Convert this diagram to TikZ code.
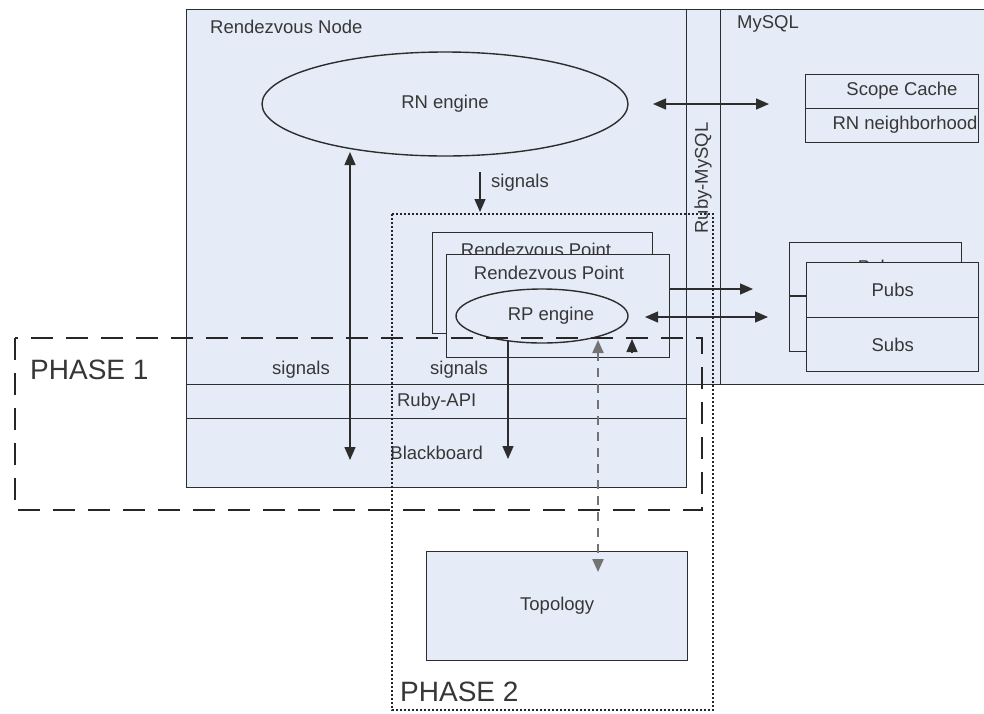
\documentclass[tikz,border=0pt]{standalone}
\usepackage{fontspec}
\setmainfont{Liberation Sans}
\usetikzlibrary{arrows.meta,shapes.geometric}
\definecolor{boxfill}{RGB}{229,236,247}
\definecolor{linec}{RGB}{45,45,45}
\definecolor{txt}{RGB}{55,55,55}
\definecolor{dashg}{RGB}{115,115,115}
\begin{document}
\begin{tikzpicture}[x=1pt,y=-1pt,
  every node/.style={font=\fontsize{18.5}{20}\selectfont, text=txt},
  box/.style={draw=linec, fill=boxfill, line width=1.4pt, inner sep=0pt, anchor=north west, rectangle},
  oval/.style={draw=linec, fill=boxfill, line width=1.4pt, inner sep=0pt, ellipse},
  lbl/.style={inner sep=0pt},
  bigl/.style={inner sep=0pt, anchor=west, font=\fontsize{28}{30}\selectfont},
  arr/.style={draw=linec, line width=1.4pt, -{Triangle[length=13pt,width=11pt]}},
  dbl/.style={draw=linec, line width=1.4pt, {Triangle[length=13pt,width=11pt]}-{Triangle[length=13pt,width=11pt]}},
  dashdbl/.style={draw=dashg, line width=2.2pt, dash pattern=on 9pt off 7pt, {Triangle[length=13pt,width=11pt]}-{Triangle[length=13pt,width=11pt]}},
  phaseone/.style={draw=black!85, line width=2.2pt, dash pattern=on 22pt off 13pt},
  phasetwo/.style={draw=black!85, line width=2.4pt, dash pattern=on 2.2pt off 1.8pt}]
\fill[white] (0,0) rectangle (984,713);
\useasboundingbox (0,0) rectangle (984,713);

% Rendezvous Node container
\node[box, minimum width=500, minimum height=478] (rn) at (186,9) {};
\node[lbl, anchor=west] (rntitle) at (210,27) {Rendezvous Node};
\node[box, minimum width=34, minimum height=375] (rmcol) at (686,9) {};
\node[lbl, rotate=90] (rmlabel) at (703,178) {Ruby-MySQL};
\node[box, minimum width=290, minimum height=375] (mysql) at (720,9) {};
\node[lbl, anchor=west] (mysqltitle) at (737,24) {MySQL};
\node[box, minimum width=500, minimum height=34] (api) at (186,384) {Ruby-API};
\node[box, minimum width=500, minimum height=69] (bb) at (186,418) {Blackboard};

% RN engine
\node[oval, minimum width=366, minimum height=104] (rne) at (445,104) {RN engine};

% Scope cache / neighbourhood
\node[box, minimum width=173, minimum height=34] (scope) at (805,74) {};
\node[lbl] (scopet) at (902,91) {Scope Cache};
\node[box, minimum width=173, minimum height=34] (nbh) at (805,108) {};
\node[lbl] (nbht) at (905,125) {RN neighborhood};

% Rendezvous points
\node[box, minimum width=220, minimum height=101] (rpb) at (432,232) {};
\node[lbl] (rpbt) at (536,250) {Rendezvous Point};
\node[box, minimum width=223, minimum height=103] (rpf) at (446,254) {};
\node[lbl] (rpft) at (549,273) {Rendezvous Point};
\node[oval, minimum width=172, minimum height=54] (rpe) at (542,316) {};
\node[lbl] (rpet) at (551,316) {RP engine};

% Pubs / Subs
\node[box, minimum width=172, minimum height=109] (pubb) at (789,242) {};
\node[lbl] (pubbt) at (879,267) {Pubs};
\draw[draw=linec, line width=1.4pt] (789,296) -- (806,296);
\node[box, minimum width=172, minimum height=55] (pubs) at (806,262) {Pubs};
\node[box, minimum width=172, minimum height=54] (subs) at (806,317) {Subs};

% Topology
\node[box, minimum width=261, minimum height=109] (topo) at (426,551) {Topology};

% signal labels
\node[lbl] (sig1) at (520,183) {signals};
\node[lbl] (sig2) at (301,370) {signals};
\node[lbl] (sig3) at (459,370) {signals};

% connector end points
\coordinate (c1a) at (653,104);
\coordinate (c1b) at (769,104);
\coordinate (c2a) at (350,152);
\coordinate (c2b) at (350,460);
\coordinate (c3a) at (480,172);
\coordinate (c3b) at (480,212);
\coordinate (c4a) at (508,341);
\coordinate (c4b) at (508,459);
\coordinate (c5a) at (598,340);
\coordinate (c5b) at (598,572);
\coordinate (c6a) at (632,353);
\coordinate (c6b) at (632,339);
\coordinate (c7a) at (669,289);
\coordinate (c7b) at (753,289);
\coordinate (c8a) at (645,317);
\coordinate (c8b) at (768,317);

\draw[dbl] (c1a) -- (c1b);
\draw[dbl] (c2a) -- (c2b);
\draw[arr] (c3a) -- (c3b);
\draw[arr] (c4a) -- (c4b);
\draw[dashdbl] (c5a) -- (c5b);
\draw[arr] (c6a) -- (c6b);
\draw[arr] (c7a) -- (c7b);
\draw[dbl] (c8a) -- (c8b);

% phases
\draw[phasetwo] (392,214) rectangle (713,710);
\draw[phaseone] (15,338) rectangle (702,510);
\node[bigl] (ph1) at (30,370) {PHASE 1};
\node[bigl] (ph2) at (400,692) {PHASE 2};
\end{tikzpicture}
\end{document}
